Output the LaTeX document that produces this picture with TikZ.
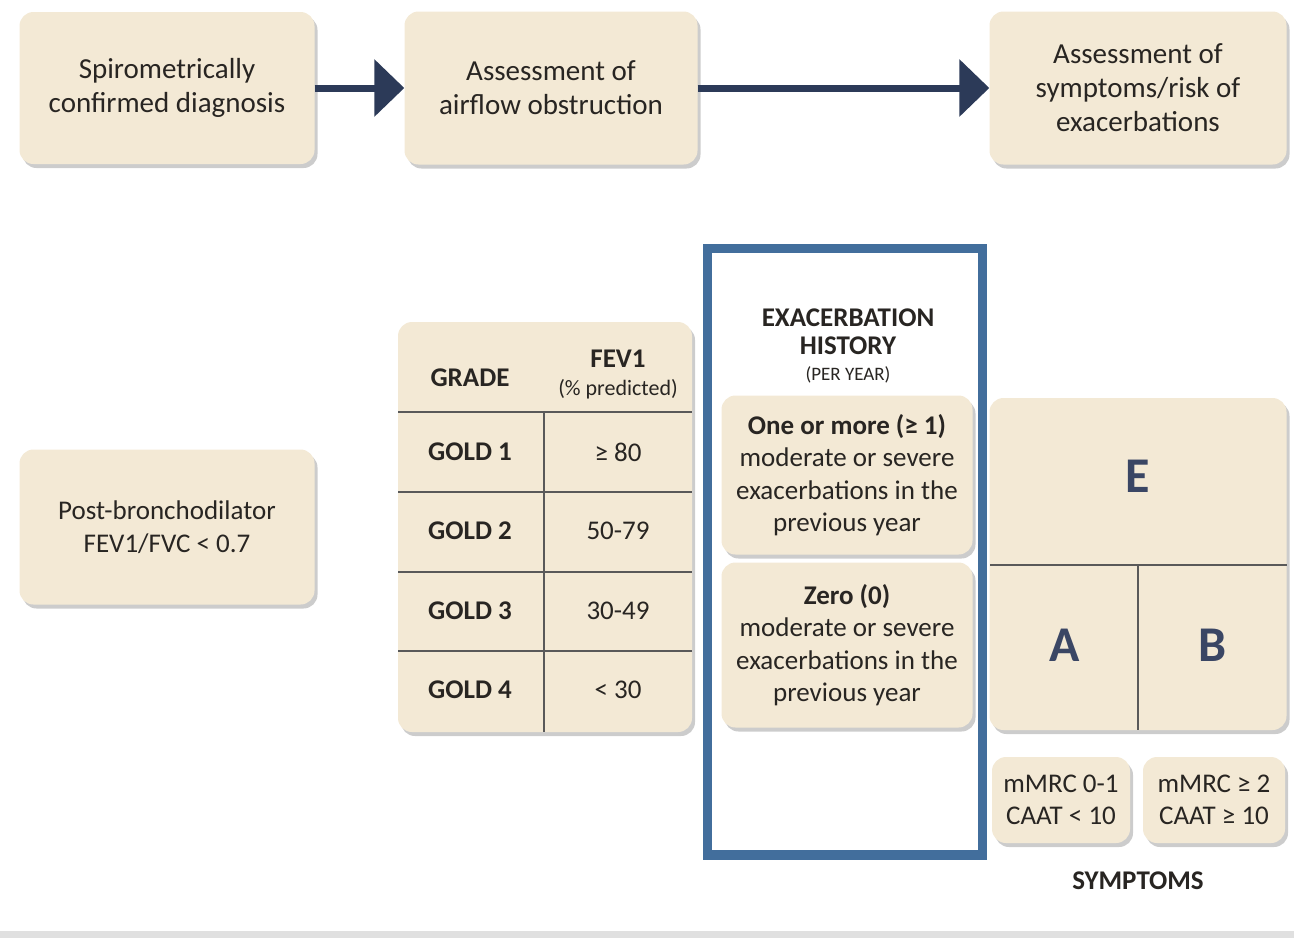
\documentclass[tikz,border=0pt]{standalone}
\usepackage{fontspec}
\setmainfont{Carlito}
\usetikzlibrary{arrows.meta,positioning,shadows}
\definecolor{boxfill}{RGB}{243,233,213}
\definecolor{navy}{RGB}{44,58,88}
\definecolor{frameblue}{RGB}{66,110,156}
\definecolor{txt}{RGB}{40,37,34}
\definecolor{letter}{RGB}{58,70,100}

\begin{document}
\begin{tikzpicture}[x=1pt, y=-1pt,
  box/.style={fill=boxfill, rounded corners=14pt, inner sep=0pt, align=center,
    text=txt, font=\fontsize{29}{34}\selectfont,
    drop shadow={shadow xshift=3pt, shadow yshift=-4pt, opacity=0.4}},
  flow/.style={line width=7pt, navy, -{Triangle[length=30pt,width=56pt]}},
  rule/.style={line width=1.8pt, black!65},
  cell/.style={text=txt, font=\fontsize{27}{30}\selectfont\bfseries},
  val/.style={text=txt, font=\fontsize{27}{30}\selectfont},
  big/.style={text=letter, font=\fontsize{50}{50}\selectfont\bfseries}]
  \useasboundingbox (0,0) rectangle (1294,938);

  % top row: the three steps
  \node[box, minimum width=295pt, minimum height=152pt] (diag) at (167,88) {Spirometrically\\confirmed diagnosis};
  \node[box, minimum width=293pt, minimum height=153pt] (airflow) at (551,88) {Assessment of\\airflow obstruction};
  \node[box, minimum width=297pt, minimum height=153pt] (symrisk) at (1138,88) {Assessment of\\symptoms/risk of\\exacerbations};
  \draw[flow] (diag.east) -- (airflow.west);
  \draw[flow] (airflow.east) -- (symrisk.west);

  % spirometry criterion
  \node[box, minimum width=295pt, minimum height=155pt, font=\fontsize{27}{33}\selectfont] (post) at (167,527) {Post-bronchodilator\\FEV1/FVC < 0.7};

  % GOLD grade table
  \node[box, minimum width=294pt, minimum height=410pt] (tbl) at (545,527) {};
  \draw[rule] (398,412) -- (692,412);
  \foreach \ry in {492,572,651}
    \draw[rule] (398,\ry) -- (692,\ry);
  \draw[rule] (544,412) -- (544,732);
  \node[cell] (grade) at (470,378) {GRADE};
  \node[cell] (fev) at (618,359) {FEV1};
  \node[text=txt, font=\fontsize{22}{24}\selectfont] (pred) at (618,389) {(\% predicted)};
  \foreach \gy/\gn/\gv in {452/1/≥ 80, 531/2/50-79, 611/3/30-49, 690/4/< 30}{
    \node[cell] (gold\gn) at (470,\gy) {GOLD \gn};
    \node[val] (fev\gn) at (618,\gy) {\gv};
  }

  % exacerbation history
  \node[text=txt, align=center, font=\fontsize{27}{28}\selectfont\bfseries] (exhead) at (848,332) {EXACERBATION\\HISTORY};
  \node[text=txt, font=\fontsize{19}{20}\selectfont] (peryear) at (848,375) {(PER YEAR)};
  \node[box, minimum width=251pt, minimum height=159pt, font=\fontsize{27}{32.5}\selectfont] (exmore) at (847,475) {\textbf{One or more (≥ 1)}\\moderate or severe\\exacerbations in the\\previous year};
  \node[box, minimum width=251pt, minimum height=165pt, font=\fontsize{27}{32.5}\selectfont] (exzero) at (847,645) {\textbf{Zero (0)}\\moderate or severe\\exacerbations in the\\previous year};
  \draw[frameblue, line width=9.5pt] (707.5,248.5) rectangle (982.5,855);

  % E / A / B groups
  \node[box, minimum width=297pt, minimum height=332pt] (groups) at (1138,564) {};
  \draw[rule] (990,565) -- (1287,565);
  \draw[rule] (1138,565) -- (1138,730);
  \node[big] (grpE) at (1138,476) {E};
  \node[big] (grpA) at (1065,645) {A};
  \node[big] (grpB) at (1213,645) {B};

  % symptoms
  \node[box, minimum width=138pt, minimum height=86pt, font=\fontsize{27}{32}\selectfont] (symlow) at (1061,800) {mMRC 0-1\\CAAT < 10};
  \node[box, minimum width=142pt, minimum height=86pt, font=\fontsize{27}{32}\selectfont] (symhigh) at (1214,800) {mMRC ≥ 2\\CAAT ≥ 10};
  \node[cell, font=\fontsize{27}{28}\selectfont\bfseries] (symptoms) at (1138,881) {SYMPTOMS};

  \fill[black!12] (0,931) rectangle (1294,938);
\end{tikzpicture}
\end{document}
